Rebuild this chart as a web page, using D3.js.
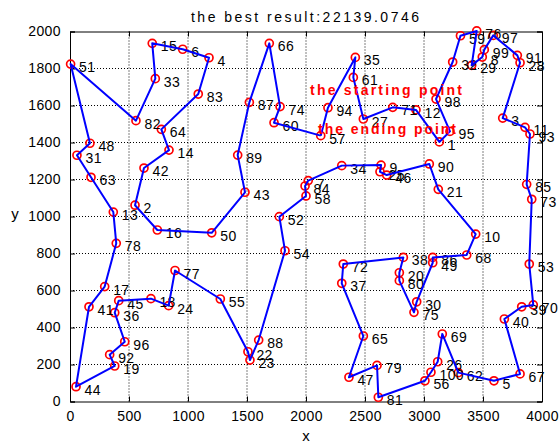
<!DOCTYPE html>
<html><head><meta charset="utf-8">
<script src="https://cdn.jsdelivr.net/npm/d3@7"></script>
<style>
html,body{margin:0;padding:0;background:#fff;}
text{font-family:"Liberation Sans",Arial,Helvetica,sans-serif;}
</style></head>
<body><svg id="c" width="559" height="443"></svg>
<script>
// City coordinates (city i+1 at index i)
const cityX = [3130,551,3667,1178,3593,955,2019,3494,2636,3438,
  3856,2932,367,839,697,740,294,686,379,2791,
  3121,1508,1525,836,2627,3116,2486,3814,3404,2938,
  59,3243,723,2303,2418,379,2303,2825,3828,3681,
  161,627,1483,51,413,2684,2364,169,3074,1201,
  5,1774,3892,1822,1274,3008,2125,2000,3309,1729,
  2401,3291,178,774,2486,1689,3814,3362,3155,3926,
  2735,2316,3913,1780,2915,3447,890,392,2602,2791,
  2613,559,1087,1992,3870,3074,1520,1599,1421,3045,
  3791,336,3898,2186,3220,464,3587,3102,3511,3059];
const cityY = [1403,1061,1532,1858,112,1904,1194,1862,1278,905,
  1482,1576,1024,1359,1936,927,621,556,192,696,
  1147,269,224,518,1242,215,1527,1831,1817,539,
  1331,1835,1745,1275,1860,480,639,779,512,446,
  512,1262,1131,80,545,1224,131,1396,750,912,
  1824,999,743,815,554,112,1437,1111,1977,1507,
  1752,156,1212,1471,354,1936,149,792,365,522,
  1590,743,1093,1594,482,2003,708,855,195,653,
  23,1518,1662,1165,1174,779,1617,332,1332,1284,
  1871,253,1446,1588,1460,323,1979,1635,1902,158];
// Best route (closed loop)
const route = [57,94,35,61,27,71,12,1,95,98,32,59,76,29,8,99,97,91,28,3,
  11,93,85,73,53,70,39,40,67,5,62,69,26,100,56,81,79,47,65,37,
  72,38,20,80,75,30,49,86,68,10,21,90,46,25,9,34,7,84,58,52,
  54,88,23,22,55,77,24,18,45,36,96,92,19,44,41,17,78,13,63,31,
  48,51,82,33,15,6,4,83,64,14,42,2,16,50,43,89,87,66,74,60,57];
const xTicks = [0,500,1000,1500,2000,2500,3000,3500,4000];
const yTicks = [0,200,400,600,800,1000,1200,1400,1600,1800,2000];
const titleText = "the best result:22139.0746";
const notes = ["the starting point","the ending point"];
const noteX = [2034,2102];
const noteY = [1657,1446];

const svg = d3.select("#c");
const L=70,R=542,T=31.5,B=401.5;
const x = d3.scaleLinear().domain([0,4000]).range([L,R]);
const y = d3.scaleLinear().domain([0,2000]).range([B,T]);

// grid
const g = svg.append("g");
g.selectAll(".gx").data(xTicks.slice(1,-1)).enter().append("line")
  .attr("x1",d=>x(d)).attr("x2",d=>x(d)).attr("y1",T).attr("y2",B)
  .attr("stroke","#000").attr("stroke-width",1).attr("stroke-dasharray","1,2");
g.selectAll(".gy").data(yTicks.slice(1,-1)).enter().append("line")
  .attr("y1",d=>y(d)).attr("y2",d=>y(d)).attr("x1",L).attr("x2",R)
  .attr("stroke","#000").attr("stroke-width",1).attr("stroke-dasharray","1,2");

// axes
const xa = svg.append("g").attr("transform",`translate(0,${B})`)
  .call(d3.axisBottom(x).tickValues(xTicks).tickSize(-5).tickPadding(10).tickFormat(d3.format("d")));
const xt = svg.append("g").attr("transform",`translate(0,${T})`)
  .call(d3.axisTop(x).tickValues(xTicks).tickSize(-5).tickFormat(""));
const ya = svg.append("g").attr("transform",`translate(${L},0)`)
  .call(d3.axisLeft(y).tickValues(yTicks).tickSize(-5).tickPadding(9).tickFormat(d3.format("d")));
const yr = svg.append("g").attr("transform",`translate(${R},0)`)
  .call(d3.axisRight(y).tickValues(yTicks).tickSize(-5).tickFormat(""));
[xa,xt,ya,yr].forEach(a=>{
  a.select(".domain").attr("stroke","#000").attr("stroke-width",1);
  a.selectAll(".tick line").attr("stroke","#000");
  a.selectAll("text").attr("font-size","14px").attr("fill","#000")
   .style("font-family",'"Liberation Sans",Arial,sans-serif').attr("letter-spacing","0.4px");
});

const idx = d3.range(cityX.length);
// markers
svg.append("g").selectAll("circle").data(idx).enter().append("circle")
  .attr("cx",i=>x(cityX[i])).attr("cy",i=>y(cityY[i])).attr("r",4)
  .attr("fill","none").attr("stroke","#ff0000").attr("stroke-width",1.7);
// labels
svg.append("g").selectAll("text").data(idx).enter().append("text")
  .attr("x",i=>x(cityX[i])+8.5).attr("y",i=>y(cityY[i])+8)
  .attr("font-size","14px").attr("fill","#000").attr("letter-spacing","0.4px")
  .text(i=>String(i+1));
// route
const line = d3.line().x(c=>x(cityX[c-1])).y(c=>y(cityY[c-1]));
svg.append("path").attr("d",line(route)).attr("fill","none")
  .attr("stroke","#0000ff").attr("stroke-width",2).attr("stroke-linejoin","round");

// notes
const nl=[152,138];
notes.forEach((t,i)=>{
  svg.append("text").attr("x",x(noteX[i])).attr("y",y(noteY[i]))
    .attr("font-size","14px").attr("font-weight","bold").attr("fill","#ff0000")
    .attr("textLength",nl[i]).attr("lengthAdjust","spacing").text(t);
});

// title & axis labels
svg.append("text").attr("x",305).attr("y",22).attr("text-anchor","middle")
  .attr("font-size","14px").attr("fill","#000")
  .attr("textLength",228).attr("lengthAdjust","spacing").text(titleText);
svg.append("text").attr("x",306).attr("y",441).attr("text-anchor","middle")
  .attr("font-size","15px").attr("fill","#000").text("x");
svg.append("text").attr("x",15).attr("y",219).attr("text-anchor","middle")
  .attr("font-size","15px").attr("fill","#000").text("y");
</script></body></html>
